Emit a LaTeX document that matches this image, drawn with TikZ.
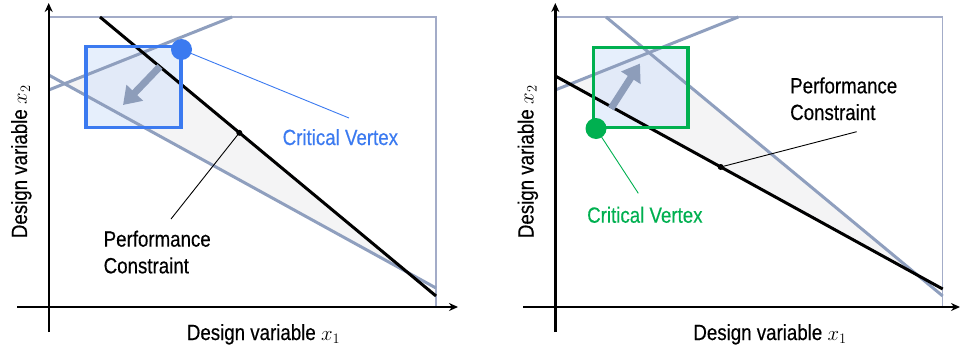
\documentclass[tikz,border=0pt]{standalone}
\usepackage{fontspec}
\setmainfont[FakeStretch=0.85,FakeBold=0.4]{Liberation Sans}
\usetikzlibrary{arrows.meta}
\definecolor{cvblue}{RGB}{59,122,240}
\definecolor{cvgreen}{RGB}{0,176,80}
\definecolor{glines}{RGB}{143,159,190}
\definecolor{gframe}{RGB}{163,172,200}
\definecolor{garrow}{RGB}{141,157,186}
\definecolor{boxfill}{RGB}{214,228,250}
\definecolor{trifill}{RGB}{244,244,245}
\tikzset{
  axis/.style={line width=2.4pt,-{Stealth[length=9pt,width=8pt]}},
  frame/.style={draw=gframe,line width=1.2pt},
  gline/.style={draw=glines,line width=3pt},
  bline/.style={draw=black,line width=3pt},
  bigarrow/.style={draw=garrow,line width=7pt,-{Triangle[length=17pt,width=22pt]}},
  dvbox/.style={line width=3.5pt},
  leader/.style={line width=0.9pt},
  lbl/.style={font=\fontsize{22}{26.7}\selectfont,inner sep=0pt},
  vdot/.style={circle,inner sep=0pt,minimum size=21pt},
  pdot/.style={circle,fill=black,inner sep=0pt,minimum size=6pt},
}
\begin{document}
\begin{tikzpicture}[x=1pt,y=-1pt]
\useasboundingbox (0,0) rectangle (960,351);
% ================= LEFT PANEL =================
\fill[trifill] (64.5,83.7) -- (142.8,52.6) -- (408,272) -- cycle;
\fill[boxfill,fill opacity=0.6] (86,46.7) rectangle (181,127.7);
\draw[frame] (48.7,17) -- (436,17) -- (436,307);
\draw[gline] (48.7,90) -- (232,17);
\draw[gline] (48.7,75) -- (436,288);
\draw[bline] (100,17) -- (436,296);
\draw[axis] (48.7,332) -- (48.7,3);
\draw[axis] (17,307) -- (458,307);
\draw[cvblue,dvbox] (86,46.7) rectangle (181,127.7);
\coordinate (La0) at (160,66.5);
\coordinate (La1) at (123,105);
\draw[bigarrow] (La0) -- (La1);
\node[vdot,fill=cvblue] (Lcv) at (181.5,49.5) {};
\coordinate (Lcvend) at (349,118);
\draw[cvblue,leader] (Lcv.center) -- (Lcvend);
\node[lbl,text=cvblue,anchor=base west] (Lcvl) at (282.5,145) {Critical Vertex};
\node[pdot] (Lpd) at (239.3,132.8) {};
\coordinate (Lpcend) at (171,219);
\draw[leader] (Lpd.center) -- (Lpcend);
\node[lbl,anchor=base west,align=left] (Lpc) at (103.5,273.3) {Performance\\Constraint};
\node[lbl,rotate=90,anchor=base] (Ly) at (27,161.5) {Design variable $x_2$};
\node[lbl,anchor=base] (Lx) at (263.5,340) {Design variable $x_1$};
% ================= RIGHT PANEL =================
\fill[trifill] (570,84.1) -- (649,52.3) -- (917.6,275.2) -- cycle;
\fill[boxfill,fill opacity=0.6] (593.3,47.3) rectangle (688,127.3);
\draw[frame] (555.3,17) -- (942.7,17) -- (942.7,307);
\draw[gline] (555.3,90) -- (738.3,17);
\draw[gline] (606,17) -- (942.7,296);
\draw[bline] (555.3,76) -- (942.7,289);
\draw[axis] (555.3,332) -- (555.3,3);
\draw[axis] (523,307) -- (960,307);
\draw[cvgreen,dvbox] (593.3,47.3) rectangle (688,127.3);
\coordinate (Ra0) at (611,108.5);
\coordinate (Ra1) at (640,63.5);
\draw[bigarrow] (Ra0) -- (Ra1);
\node[vdot,fill=cvgreen] (Rcv) at (596,128.5) {};
\coordinate (Rcvend) at (638.3,193.3);
\draw[cvgreen,leader] (Rcv.center) -- (Rcvend);
\node[lbl,text=cvgreen,anchor=base west] (Rcvl) at (587,222.7) {Critical Vertex};
\node[pdot] (Rpd) at (720.7,167) {};
\coordinate (Rpcend) at (856.7,131.7);
\draw[leader] (Rpd.center) -- (Rpcend);
\node[lbl,anchor=base west,align=left] (Rpc) at (790,120) {Performance\\Constraint};
\node[lbl,rotate=90,anchor=base] (Ry) at (533.5,161.5) {Design variable $x_2$};
\node[lbl,anchor=base] (Rx) at (770,340) {Design variable $x_1$};
\end{tikzpicture}
\end{document}
